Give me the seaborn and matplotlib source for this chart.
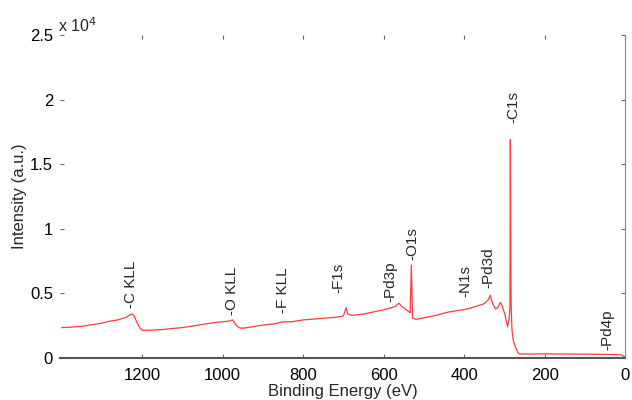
"""
XPS survey spectrum with peak labels.
"""

import matplotlib

matplotlib.use("Agg")
import matplotlib.pyplot as plt
import numpy as np
import pandas as pd
import seaborn as sns

# binding energy (eV) and intensity (counts)
energy = [
    1400, 1380, 1350, 1320, 1300, 1280, 1260, 1240, 1230, 1225, 1220, 1212,
    1205, 1200, 1180, 1150, 1120, 1100, 1080, 1050, 1020, 1000, 985, 975,
    968, 960, 950, 930, 900, 870, 850, 830, 800, 760, 720, 700, 693, 689,
    680, 650, 620, 590, 570, 562, 555, 540, 534, 531, 528, 520, 500, 470,
    440, 410, 390, 370, 350, 340, 335, 330, 322, 316, 310, 305, 298, 292,
    288, 286, 285, 284, 283, 281, 278, 272, 265, 260, 200, 100, 50, 10, 2, 0,
]
intensity = [
    2350, 2380, 2450, 2600, 2700, 2850, 2950, 3150, 3350, 3400, 3250, 2700,
    2300, 2150, 2150, 2200, 2300, 2350, 2450, 2600, 2750, 2800, 2850, 2950,
    2600, 2350, 2300, 2400, 2550, 2650, 2800, 2800, 2950, 3050, 3150, 3250,
    3900, 3400, 3300, 3400, 3600, 3800, 4000, 4250, 4000, 3650, 3500, 7200,
    3100, 3000, 3100, 3300, 3550, 3700, 3800, 4000, 4200, 4500, 4850, 4300,
    3800, 3900, 4300, 4000, 3300, 2400, 3000, 4000, 16900, 9000, 4000, 2200,
    1400, 800, 350, 300, 320, 300, 280, 250, 100, 50,
]

# peak labels: text, position (eV), bottom of text (counts)
peak_names = ["-C KLL", "-O KLL", "-F KLL", "-F1s", "-Pd3p", "-O1s",
              "-N1s", "-Pd3d", "-C1s", "-Pd4p"]
peak_x = [1227, 976, 850, 712, 584, 529, 398, 340, 278, 45]
peak_y = [3880, 3330, 3490, 5040, 4340, 7600, 4730, 5430, 18220, 620]

y_ticks = [0, 5000, 10000, 15000, 20000, 25000]
y_tick_labels = ["0", "0.5", "1", "1.5", "2", "2.5"]
x_ticks = [0, 200, 400, 600, 800, 1000, 1200]

sns.set_style("white")
plt.rcParams["font.family"] = ["Liberation Sans", "DejaVu Sans"]

df = pd.DataFrame({"energy": energy, "intensity": intensity})

fig = plt.figure(figsize=(6.32, 4.0), dpi=100)
ax = fig.add_axes([0.095, 0.105, 0.894, 0.8075])

sns.lineplot(data=df, x="energy", y="intensity", estimator=None, sort=False,
             color="#ff3b3b", linewidth=0.9, ax=ax)

for name, px, py in zip(peak_names, peak_x, peak_y):
    ax.text(px, py, name, rotation=90, ha="center", va="bottom", fontsize=11)

ax.set_xlim(1404, 0)
ax.set_ylim(0, 25000)
ax.set_xticks(x_ticks)
ax.set_yticks(y_ticks)
ax.set_yticklabels(y_tick_labels)
ax.tick_params(axis="both", direction="in", length=3, width=0.8,
               colors="#666666", labelcolor="black", labelsize=12,
               top=True, right=True, bottom=True, left=True, pad=5)
ax.tick_params(axis="x", pad=7)

for side in ["left", "top"]:
    ax.spines[side].set_visible(False)
ax.spines["bottom"].set_color("#555555")
ax.spines["bottom"].set_linewidth(1.5)
ax.spines["right"].set_color("#888888")
ax.spines["right"].set_linewidth(0.8)

ax.set_xlabel("Binding Energy (eV)", fontsize=12, labelpad=1)
ax.set_ylabel("Intensity (a.u.)", fontsize=12, labelpad=2)
ax.text(-0.004, 1.0, r"x 10$^4$", transform=ax.transAxes, fontsize=11.5,
        ha="left", va="bottom")

fig.savefig("out.png", dpi=100)
plt.close(fig)
